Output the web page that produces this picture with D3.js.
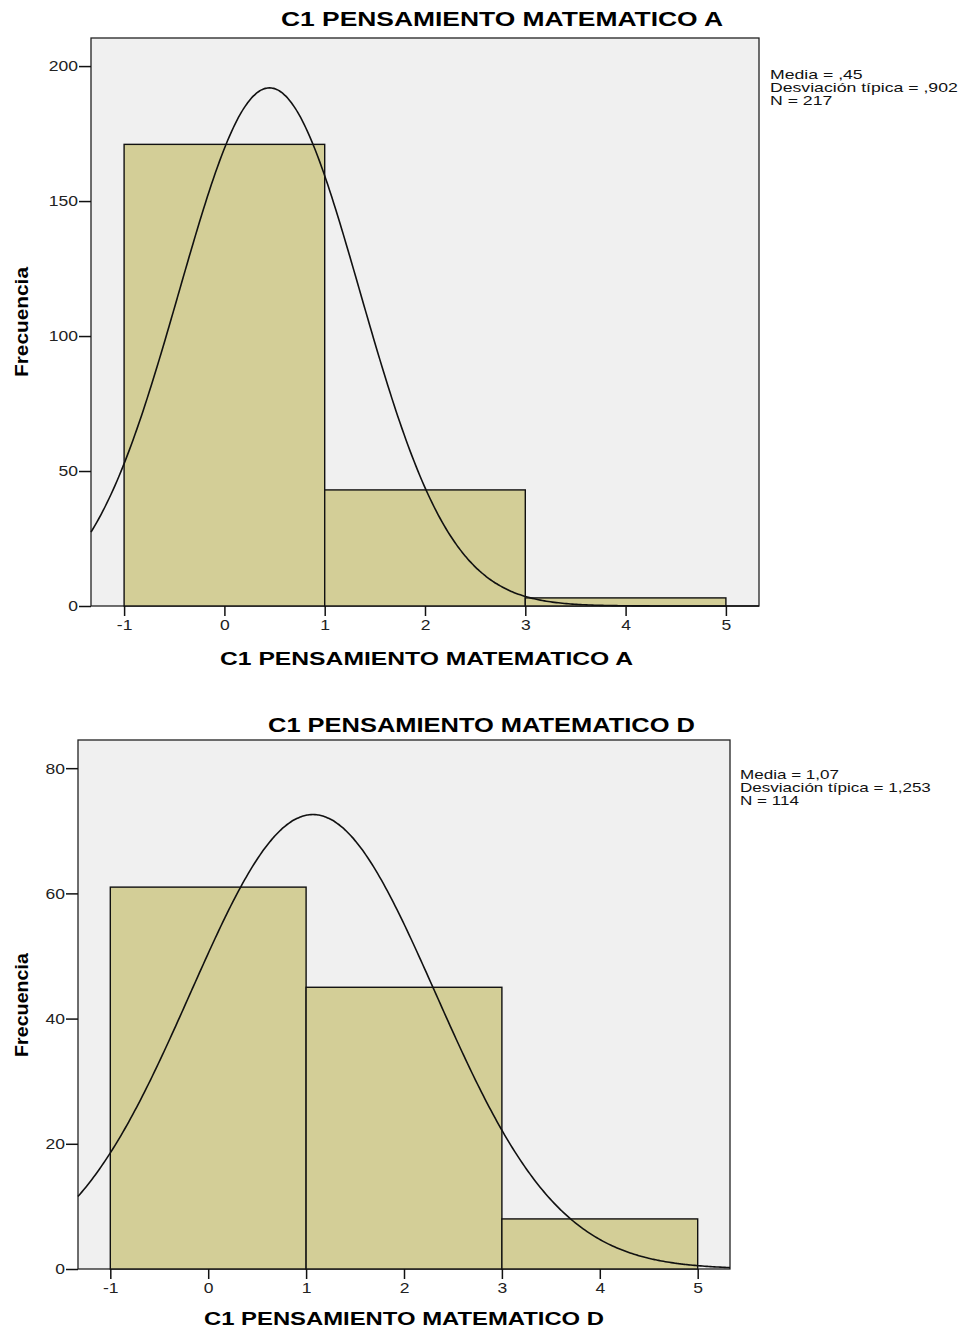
<!DOCTYPE html>
<html><head><meta charset="utf-8">
<script src="https://cdn.jsdelivr.net/npm/d3@7/dist/d3.min.js"></script>
<style>body{margin:0;background:#fff}svg{display:block}</style>
</head><body>
<script>
// Data
const binEdgesA = [-1, 1, 3, 5];
const countsA = [171, 43, 3];
const meanA = 0.45, sdA = 0.902, nA = 217;
const statsA = ["Media = ,45", "Desviación típica = ,902", "N = 217"];
const titleA = "C1 PENSAMIENTO MATEMATICO A";
const yTicksA = [0, 50, 100, 150, 200];

const binEdgesD = [-1, 1, 3, 5];
const countsD = [61, 45, 8];
const meanD = 1.07, sdD = 1.253, nD = 114;
const statsD = ["Media = 1,07", "Desviación típica = 1,253", "N = 114"];
const titleD = "C1 PENSAMIENTO MATEMATICO D";
const yTicksD = [0, 20, 40, 60, 80];

const xTicks = [-1, 0, 1, 2, 3, 4, 5];
const yLabel = "Frecuencia";

const svg = d3.select("body").append("svg").attr("width", 963).attr("height", 1329);
const FONT = "Liberation Sans, Arial, sans-serif";
const STRETCH = 1.25;

function stretchText(sel) {
  sel.each(function () {
    const w = this.getComputedTextLength();
    d3.select(this).attr("textLength", w * STRETCH).attr("lengthAdjust", "spacingAndGlyphs");
  });
}

function drawChart(cfg) {
  const g = svg.append("g");
  const x = d3.scaleLinear().domain([-1.33, 5.33]).range([cfg.left, cfg.right]);
  const y = d3.scaleLinear().domain([0, cfg.ymax]).range([cfg.bottom, cfg.top]);

  g.append("rect").attr("x", cfg.left).attr("y", cfg.top)
    .attr("width", cfg.right - cfg.left).attr("height", cfg.bottom - cfg.top)
    .attr("fill", "#f0f0f0").attr("stroke", "#222").attr("stroke-width", 1.3);

  const bins = cfg.counts.map((c, i) => ({x0: cfg.edges[i], x1: cfg.edges[i + 1], c}));
  g.selectAll("rect.bar").data(bins).enter().append("rect").attr("class", "bar")
    .attr("x", d => x(d.x0)).attr("y", d => y(d.c))
    .attr("width", d => x(d.x1) - x(d.x0)).attr("height", d => y(0) - y(d.c))
    .attr("fill", "#d3ce97").attr("stroke", "#111").attr("stroke-width", 1.4);

  // normal curve
  const bw = cfg.edges[1] - cfg.edges[0];
  const pts = d3.range(-1.33, 5.33 + 1e-9, 0.02).map(v => [v,
    cfg.n * bw * Math.exp(-0.5 * Math.pow((v - cfg.mean) / cfg.sd, 2)) / (cfg.sd * Math.sqrt(2 * Math.PI))]);
  g.append("path").datum(pts)
    .attr("d", d3.line().x(d => x(d[0])).y(d => y(d[1])).curve(d3.curveBasis))
    .attr("fill", "none").attr("stroke", "#111").attr("stroke-width", 1.6);

  // axes
  const ya = g.append("g").attr("transform", `translate(${cfg.left},0)`)
    .call(d3.axisLeft(y).tickValues(cfg.yTicks).tickFormat(d3.format("d")).tickSize(12).tickSizeOuter(0).tickPadding(1));
  ya.select(".domain").remove();
  ya.selectAll("line").attr("stroke", "#111").attr("stroke-width", 1.5);
  ya.selectAll("text").attr("font-family", FONT).attr("font-size", 14).attr("fill", "#222").attr("dy", "0.35em");
  stretchText(ya.selectAll("text"));

  const xa = g.append("g").attr("transform", `translate(0,${cfg.bottom})`)
    .call(d3.axisBottom(x).tickValues(xTicks).tickFormat(d => String(d)).tickSize(10).tickSizeOuter(0).tickPadding(4));
  xa.select(".domain").remove();
  xa.selectAll("line").attr("stroke", "#111").attr("stroke-width", 1.5);
  xa.selectAll("text").attr("font-family", FONT).attr("font-size", 14).attr("fill", "#222");
  stretchText(xa.selectAll("text"));

  g.append("text").attr("x", cfg.titleX).attr("y", cfg.titleY).attr("text-anchor", "middle")
    .attr("font-family", FONT).attr("font-weight", "bold").attr("font-size", 20)
    .attr("textLength", cfg.titleW).attr("lengthAdjust", "spacingAndGlyphs").text(cfg.title);
  g.append("text").attr("x", cfg.xlabX).attr("y", cfg.xlabY).attr("text-anchor", "middle")
    .attr("font-family", FONT).attr("font-weight", "bold").attr("font-size", 19)
    .attr("textLength", cfg.xlabW).attr("lengthAdjust", "spacingAndGlyphs").text(cfg.title);
  g.append("text").attr("transform", `translate(${cfg.ylabX},${cfg.ylabY}) rotate(-90)`)
    .attr("text-anchor", "middle")
    .attr("font-family", FONT).attr("font-weight", "bold").attr("font-size", 18)
    .attr("textLength", cfg.ylabW).attr("lengthAdjust", "spacingAndGlyphs").text(yLabel);

  // stats block, stretched horizontally to match
  const sg = g.append("g").attr("transform", `translate(${cfg.statX},${cfg.statY})`);
  const st = sg.selectAll("text").data(cfg.stats).enter().append("text")
    .attr("x", 0).attr("y", (d, i) => i * 13)
    .attr("font-family", FONT).attr("font-size", 12.5).attr("fill", "#111").text(d => d);
  const w = st.nodes()[1].getComputedTextLength();
  const k = cfg.statW / w;
  sg.attr("transform", `translate(${cfg.statX},${cfg.statY}) scale(${k},1)`);
}

drawChart({left: 91, right: 759, top: 38, bottom: 606, ymax: 210.4,
  edges: binEdgesA, counts: countsA, mean: meanA, sd: sdA, n: nA, yTicks: yTicksA,
  title: titleA, titleX: 502, titleY: 26, titleW: 442, xlabX: 426.5, xlabY: 665, xlabW: 413,
  ylabX: 28, ylabY: 322, ylabW: 110, stats: statsA, statX: 770, statY: 79, statW: 188});

drawChart({left: 78, right: 730, top: 740, bottom: 1269, ymax: 84.5,
  edges: binEdgesD, counts: countsD, mean: meanD, sd: sdD, n: nD, yTicks: yTicksD,
  title: titleD, titleX: 481.5, titleY: 732, titleW: 427, xlabX: 404, xlabY: 1325, xlabW: 400,
  ylabX: 28, ylabY: 1005, ylabW: 104, stats: statsD, statX: 740, statY: 779, statW: 191});
</script>
</body></html>
